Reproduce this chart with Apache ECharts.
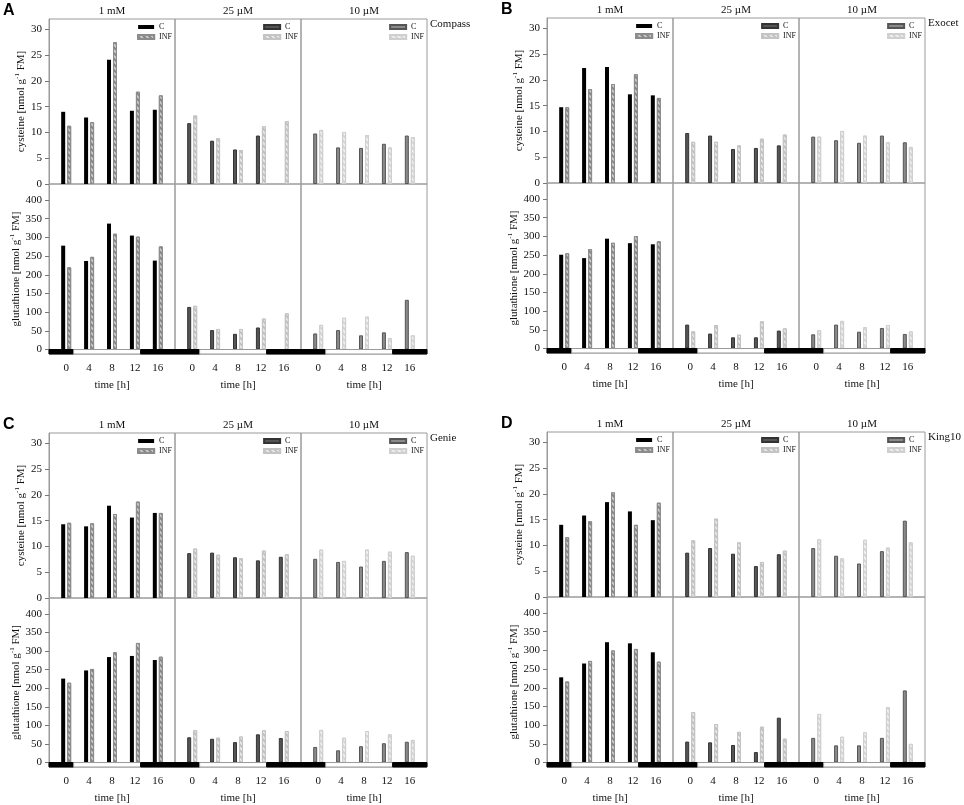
<!DOCTYPE html>
<html>
<head>
<meta charset="utf-8">
<title>cysteine / glutathione</title>
<script src="https://cdn.jsdelivr.net/npm/echarts@6.0.0/dist/echarts.min.js"></script>
<style>
    html, body { margin: 0; padding: 0; background: #fff; }
    #main { width: 964px; height: 805px; }
</style>
</head>
<body>
<div id="main"></div>
<script>
var times = [0, 4, 8, 12, 16];
var concentrations = ['1 mM', '25 µM', '10 µM'];
var cultivars = ['Compass', 'Exocet', 'Genie', 'King10'];
var panelLetters = ['A', 'B', 'C', 'D'];
var cysTicks = [0, 5, 10, 15, 20, 25, 30];
var gshTicks = [0, 50, 100, 150, 200, 250, 300, 350, 400];

// 15 values each: 1 mM (0..16 h), 25 µM (0..16 h), 10 µM (0..16 h)
var cysCompassC = [14.0, 12.9, 24.1, 14.2, 14.4, 11.8, 8.4, 6.7, 9.4, null, 9.8, 7.1, 7.0, 7.8, 9.4];
var cysCompassINF = [11.3, 12.0, 27.5, 17.9, 17.2, 13.3, 8.9, 6.6, 11.2, 12.2, 10.5, 10.1, 9.5, 7.1, 9.1];
var gshCompassC = [278, 237, 337, 305, 238, 114, 52, 42, 59, null, 43, 52, 38, 46, 133];
var gshCompassINF = [220, 248, 310, 302, 276, 117, 55, 55, 83, 97, 66, 85, 88, 31, 38];

var cysExocetC = [14.7, 22.3, 22.5, 17.2, 17.0, 9.7, 9.2, 6.6, 6.8, 7.3, 9.0, 8.3, 7.8, 9.2, 7.9];
var cysExocetINF = [14.7, 18.2, 19.2, 21.1, 16.5, 8.0, 8.0, 7.3, 8.6, 9.4, 9.0, 10.1, 9.2, 7.9, 7.0];
var gshExocetC = [251, 242, 294, 282, 279, 64, 40, 30, 30, 48, 38, 64, 45, 55, 39];
var gshExocetINF = [255, 266, 283, 301, 287, 46, 63, 37, 73, 54, 49, 74, 57, 63, 46];

var cysGenieC = [14.3, 13.9, 17.9, 15.6, 16.5, 8.7, 8.8, 7.9, 7.3, 8.0, 7.6, 7.0, 6.1, 7.2, 8.9];
var cysGenieINF = [14.6, 14.5, 16.3, 18.7, 16.5, 9.6, 8.4, 7.7, 9.2, 8.5, 9.4, 7.2, 9.4, 9.0, 8.2];
var gshGenieC = [226, 248, 284, 287, 276, 68, 64, 55, 76, 66, 42, 33, 44, 52, 56];
var gshGenieINF = [215, 252, 297, 322, 285, 87, 67, 70, 87, 85, 88, 67, 85, 76, 61];

var cysKing10C = [14.0, 15.8, 18.4, 16.6, 14.9, 8.6, 9.5, 8.4, 6.0, 8.3, 9.5, 8.0, 6.5, 8.9, 14.8];
var cysKing10INF = [11.6, 14.7, 20.3, 14.0, 18.3, 11.0, 15.2, 10.6, 6.8, 9.0, 11.2, 7.5, 11.1, 9.6, 10.6];
var gshKing10C = [228, 265, 322, 319, 295, 56, 54, 47, 28, 120, 66, 46, 46, 66, 193];
var gshKing10INF = [217, 272, 300, 304, 270, 135, 103, 82, 96, 64, 130, 69, 81, 148, 50];

// dark / light phases in hours
var phaseStart = [-3, 1.3, 13];
var phaseEnd = [1.3, 13, 19];
var phaseDark = [true, false, true];

var panelData = [
    [cysCompassC, cysCompassINF, gshCompassC, gshCompassINF],
    [cysExocetC, cysExocetINF, gshExocetC, gshExocetINF],
    [cysGenieC, cysGenieINF, gshGenieC, gshGenieINF],
    [cysKing10C, cysKing10INF, gshKing10C, gshKing10INF]
];

var W = 964;
var serif = 'Liberation Serif';
var panelOrigin = [[0, 0], [498, -1], [0, 414], [498, 413]];
var secLeft = 49, secWidth = 126;
var cysTop = 19, cysHeight = 165, gshHeight = 170;
var xMin = -3, xMax = 19;
var gshMin = -12, gshMax = 443;

function hatch(color) {
    return {
        symbol: 'rect',
        symbolSize: 1,
        color: color,
        dashArrayX: [1, 0],
        dashArrayY: [2, 2],
        rotation: Math.PI / 4
    };
}

function barStyle(s, which) {
    if (which === 0) {
        if (s === 0) return {color: '#000'};
        if (s === 1) return {color: '#555', borderColor: '#333', borderWidth: 1};
        return {color: '#8a8a8a', borderColor: '#555', borderWidth: 1};
    }
    if (s === 0) return {color: '#cacaca', borderColor: '#8c8c8c', borderWidth: 1, decal: hatch('#858585')};
    if (s === 1) return {color: '#e8e8e8', borderColor: '#c4c4c4', borderWidth: 1, decal: hatch('#c0c0c0')};
    return {color: '#f0f0f0', borderColor: '#cfcfcf', borderWidth: 1, decal: hatch('#d4d4d4')};
}

function pairs(values, s) {
    var out = [];
    for (var i = 0; i < times.length; i++) {
        out.push([times[i], values[s * times.length + i]]);
    }
    return out;
}

function phaseData() {
    var out = [];
    for (var k = 0; k < phaseStart.length; k++) {
        out.push([phaseStart[k], phaseEnd[k], phaseDark[k] ? 1 : 0]);
    }
    return out;
}

function renderPhase(params, api) {
    var p0 = api.coord([api.value(0), 0]);
    var p1 = api.coord([api.value(1), gshMin]);
    var dark = api.value(2) === 1;
    return {
        type: 'rect',
        shape: {x: p0[0], y: p0[1], width: p1[0] - p0[0], height: p1[1] - p0[1]},
        style: {fill: dark ? '#000' : '#fff', stroke: dark ? '#000' : '#999', lineWidth: 1}
    };
}

function yName(label, rich) {
    if (rich) return '{a|' + label + ' [nmol g}{s|-1}{a| FM]}';
    return label + ' [nmol g-1 FM]';
}

function buildOption(rich) {
    var option = {
        backgroundColor: '#fff',
        animation: false,
        title: [],
        legend: [],
        grid: [],
        xAxis: [],
        yAxis: [],
        series: []
    };
    for (var p = 0; p < 4; p++) {
        var ox = panelOrigin[p][0], oy = panelOrigin[p][1];
        var key = panelLetters[p];

        option.title.push({
            text: panelLetters[p], left: ox + 3, top: oy + 3, padding: 0,
            textStyle: {fontFamily: 'Liberation Sans', fontSize: 16, fontWeight: 'bold', color: '#000'}
        });
        option.title.push({
            text: cultivars[p], left: ox + 430, top: oy + 19, padding: 0,
            textStyle: {fontFamily: serif, fontSize: 11, fontWeight: 'normal', color: '#111'}
        });

        for (var r = 0; r < 2; r++) {
            for (var s = 0; s < 3; s++) {
                var idx = option.grid.length;
                var left = ox + secLeft + s * secWidth;
                var top = r === 0 ? oy + cysTop : oy + cysTop + cysHeight;
                option.grid.push({
                    left: left, top: top, width: secWidth, height: r === 0 ? cysHeight : gshHeight,
                    show: true, borderColor: '#9a9a9a', borderWidth: 1
                });

                var xAx = {
                    gridIndex: idx, type: 'value', min: xMin, max: xMax,
                    axisLine: {show: false, onZero: false}, axisTick: {show: false}, splitLine: {show: false},
                    nameLocation: 'middle',
                    nameTextStyle: {fontFamily: serif, fontSize: 11, color: '#111'}
                };
                if (r === 0) {
                    xAx.position = 'top';
                    xAx.axisLabel = {show: false};
                    xAx.name = concentrations[s];
                    xAx.nameGap = 2;
                } else {
                    xAx.position = 'bottom';
                    xAx.axisLabel = {customValues: times, margin: 9, fontFamily: serif, fontSize: 11, color: '#111'};
                    xAx.name = 'time [h]';
                    xAx.nameGap = 26;
                }
                option.xAxis.push(xAx);

                var ticks = r === 0 ? cysTicks : gshTicks;
                var yAx = {
                    gridIndex: idx, type: 'value',
                    min: r === 0 ? 0 : gshMin, max: r === 0 ? 32 : gshMax,
                    splitLine: {show: false}
                };
                if (s === 0) {
                    yAx.axisLine = {show: true, onZero: false, lineStyle: {color: '#9a9a9a', width: 1}};
                    yAx.axisTick = {show: true, customValues: ticks, length: 4, lineStyle: {color: '#777', width: 1}};
                    yAx.axisLabel = {customValues: ticks, margin: 7, fontFamily: serif, fontSize: 11, color: '#111'};
                    yAx.name = yName(r === 0 ? 'cysteine' : 'glutathione', rich);
                    yAx.nameLocation = 'middle';
                    yAx.nameGap = r === 0 ? 21 : 26;
                    yAx.nameTextStyle = {fontFamily: serif, fontSize: 11, color: '#111'};
                    if (rich) {
                        yAx.nameTextStyle.rich = {
                            a: {fontFamily: serif, fontSize: 11, color: '#111', lineHeight: 14},
                            s: {fontFamily: serif, fontSize: 7, color: '#111', lineHeight: 14, verticalAlign: 'top'}
                        };
                    }
                } else {
                    yAx.show = false;
                }
                option.yAxis.push(yAx);

                var suffix = key + r + s;
                option.series.push({
                    type: 'bar', name: 'C|' + suffix, xAxisIndex: idx, yAxisIndex: idx,
                    barWidth: 4, barGap: '50%', data: pairs(panelData[p][r * 2], s), itemStyle: barStyle(s, 0)
                });
                option.series.push({
                    type: 'bar', name: 'INF|' + suffix, xAxisIndex: idx, yAxisIndex: idx,
                    barWidth: 4, barGap: '50%', data: pairs(panelData[p][r * 2 + 1], s), itemStyle: barStyle(s, 1)
                });

                if (r === 0) {
                    option.legend.push({
                        data: ['C|' + suffix, 'INF|' + suffix],
                        orient: 'vertical', right: W - (left + secWidth) + 3, top: oy + 23,
                        padding: 0, itemGap: 2, itemWidth: 16, itemHeight: 4, icon: 'rect',
                        selectedMode: false,
                        formatter: function (name) { return name.split('|')[0]; },
                        textStyle: {fontFamily: serif, fontSize: 8, color: '#111'}
                    });
                } else {
                    option.series.push({
                        type: 'custom', name: 'phase' + suffix, xAxisIndex: idx, yAxisIndex: idx,
                        renderItem: renderPhase, encode: {x: [0, 1]}, data: phaseData(), silent: true, z: 3
                    });
                }
            }
        }
    }
    return option;
}

var el = document.getElementById('main');
var chart = echarts.init(el);
try {
    chart.setOption(buildOption(true));
} catch (e) {
    chart.dispose();
    chart = echarts.init(el);
    chart.setOption(buildOption(false));
}
</script>
</body>
</html>
